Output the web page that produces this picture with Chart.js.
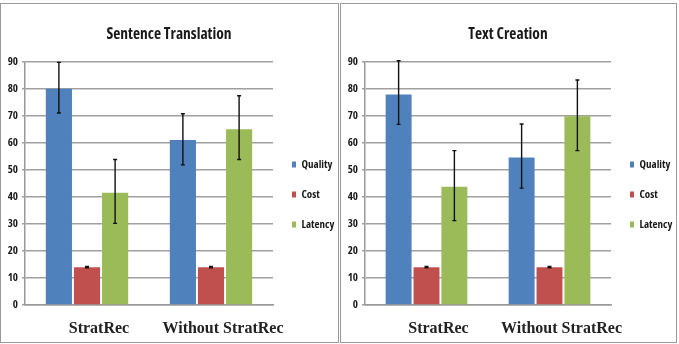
<!DOCTYPE html>
<html>
<head>
<meta charset="utf-8">
<script src="https://cdn.jsdelivr.net/npm/chart.js@4/dist/chart.umd.min.js"></script>
<style>
  body { margin: 0; background: #fff; }
  .panel { position: absolute; top: 3px; height: 340px; box-sizing: border-box; border: 1.5px solid #9a9a9a; }
  #p1 { left: 0; width: 339px; }
  #p2 { left: 340px; width: 337px; }
  canvas { display: block; }
</style>
</head>
<body>
<div class="panel" id="p1"><canvas id="c1" width="336" height="337"></canvas></div>
<div class="panel" id="p2"><canvas id="c2" width="334" height="337"></canvas></div>
<script>
// Data
const categories = ['StratRec', 'Without StratRec'];
const seriesNames = ['Quality', 'Cost', 'Latency'];
const seriesColors = ['#4f81bd', '#c0504d', '#9bbb59'];

// Sentence Translation
const stQuality = [80, 61];
const stCost = [14, 14];
const stLatency = [41.5, 65];
const stQualityErr = [[71, 89.7], [51.8, 70.7]];
const stCostErr = [[13.8, 14.3], [13.8, 14.3]];
const stLatencyErr = [[30.2, 53.8], [53.8, 77.4]];

// Text Creation
const tcQuality = [77.8, 54.5];
const tcCost = [14, 14];
const tcLatency = [43.7, 69.8];
const tcQualityErr = [[66.8, 90.3], [43.2, 66.9]];
const tcCostErr = [[13.8, 14.3], [13.8, 14.3]];
const tcLatencyErr = [[31.2, 57.1], [57.1, 83.2]];

const yTicks = [0, 10, 20, 30, 40, 50, 60, 70, 80, 90];

const narrow = "'Liberation Sans Narrow', 'Open Sans', Roboto, sans-serif";
const serif = "'Liberation Serif', 'DejaVu Serif', serif";

// error bars drawn from dataset.err through the y scale
const errorBars = {
  id: 'errorBars',
  afterDatasetsDraw(chart){
    const ctx = chart.ctx;
    const y = chart.scales.y;
    ctx.save();
    ctx.strokeStyle = '#111';
    ctx.lineWidth = 1.4;
    chart.data.datasets.forEach((ds, i) => {
      const meta = chart.getDatasetMeta(i);
      meta.data.forEach((bar, j) => {
        const e = ds.err[j];
        const yLo = y.getPixelForValue(e[0]);
        const yHi = y.getPixelForValue(e[1]);
        ctx.beginPath();
        ctx.moveTo(bar.x, yLo); ctx.lineTo(bar.x, yHi);
        ctx.moveTo(bar.x - 2, yLo); ctx.lineTo(bar.x + 2, yLo);
        ctx.moveTo(bar.x - 2, yHi); ctx.lineTo(bar.x + 2, yHi);
        ctx.stroke();
      });
    });
    ctx.restore();
  }
};

function makeChart(id, title, q, c, l, qe, ce, le){
  const values = [q, c, l];
  const errs = [qe, ce, le];
  return new Chart(document.getElementById(id), {
    type: 'bar',
    data: {
      labels: categories,
      datasets: seriesNames.map((name, i) => ({
        label: name,
        data: values[i],
        err: errs[i],
        backgroundColor: seriesColors[i],
        borderWidth: 0,
        barPercentage: 0.93,
        categoryPercentage: 0.68
      }))
    },
    options: {
      responsive: false,
      animation: false,
      layout: { padding: 0 },
      scales: {
        x: {
          grid: { display: false },
          border: { display: true, color: '#9a9a9a', width: 1.5 },
          ticks: {
            color: '#222', font: { family: serif, size: 16, weight: 'bold' },
            labelOffset: 12, padding: 6, maxRotation: 0, minRotation: 0, autoSkip: false
          },
          afterFit: s => { s.height = 36; }
        },
        y: {
          min: 0, max: 90,
          afterBuildTicks: s => { s.ticks = yTicks.map(v => ({ value: v })); },
          grid: { color: '#a0a0a0', lineWidth: 1.5, tickLength: 3 },
          border: { display: true, color: '#9a9a9a', width: 1.5 },
          ticks: { color: '#1a1a1a', font: { family: narrow, size: 11, weight: 'bold condensed' }, padding: 4 },
          afterFit: s => { s.width = 24; }
        }
      },
      plugins: {
        title: {
          display: true, text: title, color: '#1a1a1a',
          font: { family: narrow, size: 15.5, weight: 'bold condensed' },
          padding: { top: 21, bottom: 18 }
        },
        legend: {
          position: 'right',
          maxWidth: 64,
          title: { display: true, text: '', font: { size: 10 }, padding: { top: 0, bottom: 32 } },
          labels: { boxWidth: 4, boxHeight: 6, padding: 19, color: '#1a1a1a', font: { family: narrow, size: 11, weight: 'bold condensed' } }
        },
        tooltip: { enabled: false }
      }
    },
    plugins: [errorBars]
  });
}

makeChart('c1', 'Sentence Translation', stQuality, stCost, stLatency, stQualityErr, stCostErr, stLatencyErr);
makeChart('c2', 'Text Creation', tcQuality, tcCost, tcLatency, tcQualityErr, tcCostErr, tcLatencyErr);
</script>
</body>
</html>
